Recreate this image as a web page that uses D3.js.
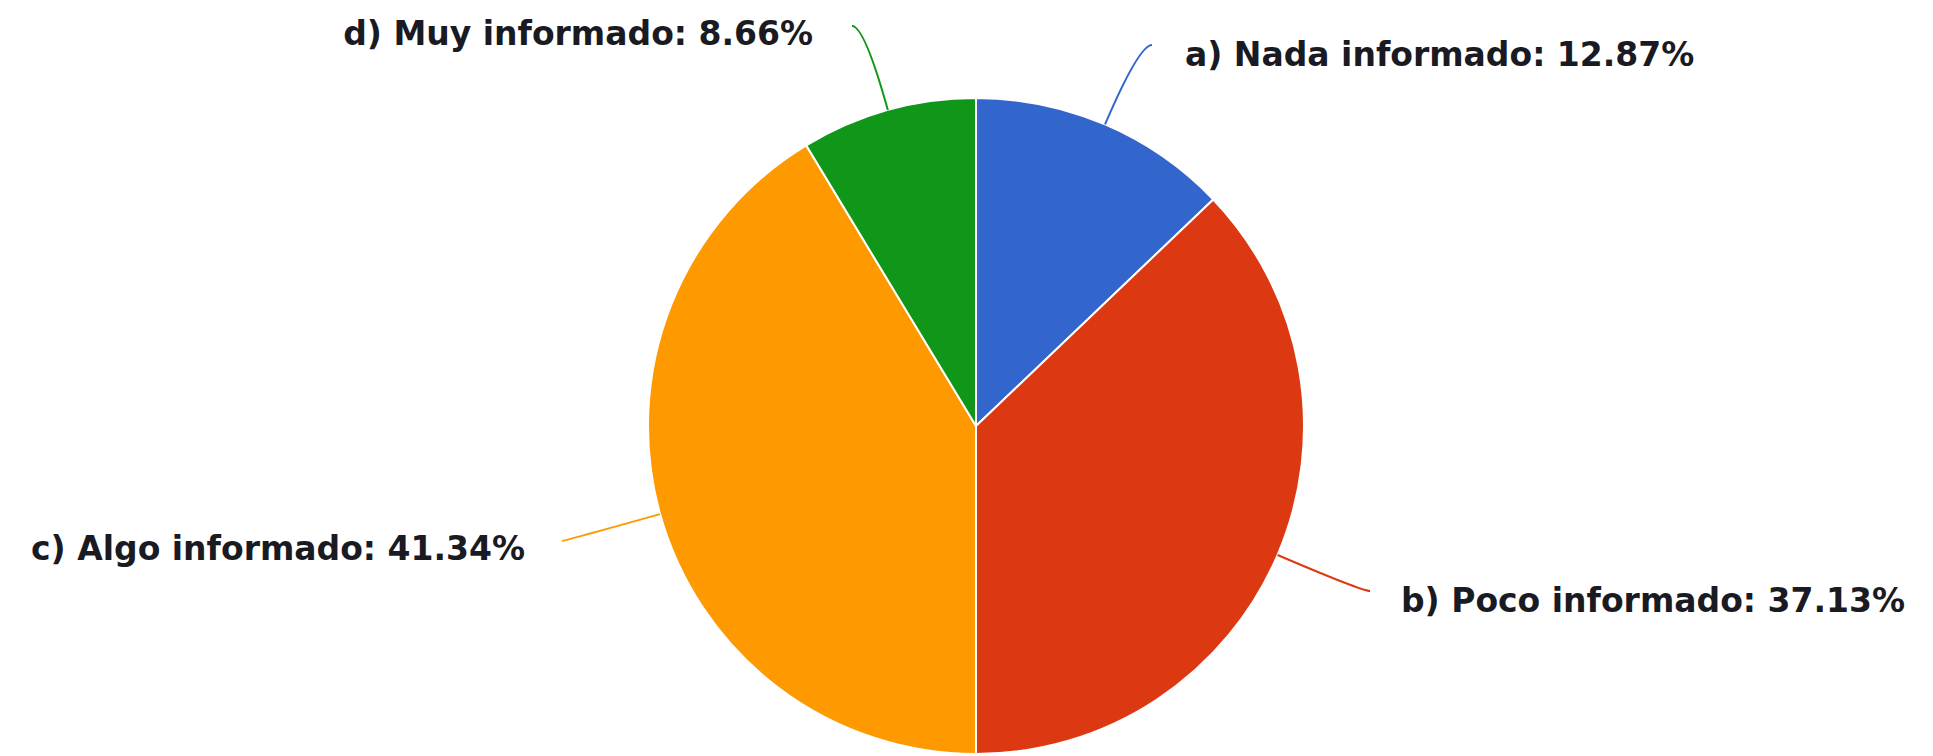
<!DOCTYPE html>
<html>
<head>
<meta charset="utf-8">
<script src="https://cdn.jsdelivr.net/npm/d3@7"></script>
<style>
  body { margin: 0; background: #fff; }
  text { font-family: "DejaVu Sans", sans-serif; font-weight: bold; }
</style>
</head>
<body>
<div class="canvas"></div>
<script>
// data
const categories = ['a) Nada informado', 'b) Poco informado', 'c) Algo informado', 'd) Muy informado'];
const percents = [12.87, 37.13, 41.34, 8.66];
const colors = ['#3366cc', '#dc3912', '#ff9900', '#109618'];

// label layout: where each leader line ends and where its text baseline sits
const labelPos = [
    {end: [1152, 45],  tx: 1185, ty: 66,  anchor: 'start'},
    {end: [1370, 591], tx: 1401, ty: 612, anchor: 'start'},
    {end: [562, 541],  tx: 525,  ty: 560, anchor: 'end'},
    {end: [852, 26],   tx: 813,  ty: 45,  anchor: 'end'}
];

const width = 1933, height = 756;
const cx = 976, cy = 426, radius = 328;

const svg = d3.select('.canvas')
    .append('svg')
    .attr('width', width)
    .attr('height', height);

const data = categories.map((c, i) => ({name: c, value: percents[i], color: colors[i], pos: labelPos[i]}));

const pie = d3.pie()
    .sort(null)
    .value(d => d.value);

const arc = d3.arc()
    .innerRadius(0)
    .outerRadius(radius);

const graph = svg.append('g')
    .attr('transform', `translate(${cx},${cy})`);

const arcs = pie(data);

graph.selectAll('path.slice')
    .data(arcs)
    .enter()
    .append('path')
    .attr('class', 'slice')
    .attr('d', arc)
    .attr('fill', d => d.data.color)
    .attr('stroke', '#fff')
    .attr('stroke-width', 2);

// leader lines: start on the rim at mid angle, bend toward the label
const leader = d => {
    const a = (d.startAngle + d.endAngle) / 2;
    const dx = Math.sin(a), dy = -Math.cos(a);
    const p0 = [cx + dx * radius, cy + dy * radius];
    const end = d.data.pos.end;
    let t = (end[1] - p0[1]) / dy;
    let c = [p0[0] + dx * t, p0[1] + dy * t];
    const side = d.data.pos.anchor === 'start' ? 1 : -1;
    if ((c[0] - end[0]) * side > 0 || t < 0) {
        t = Math.hypot(end[0] - p0[0], end[1] - p0[1]) * 0.55;
        c = [p0[0] + dx * t, p0[1] + dy * t];
    }
    const p = d3.path();
    p.moveTo(p0[0], p0[1]);
    p.quadraticCurveTo(c[0], c[1], end[0], end[1]);
    return p.toString();
};

svg.selectAll('path.leader')
    .data(arcs)
    .enter()
    .append('path')
    .attr('class', 'leader')
    .attr('d', leader)
    .attr('fill', 'none')
    .attr('stroke', d => d.data.color)
    .attr('stroke-width', 2);

// labels
svg.selectAll('text.label')
    .data(arcs)
    .enter()
    .append('text')
    .attr('class', 'label')
    .attr('x', d => d.data.pos.tx)
    .attr('y', d => d.data.pos.ty)
    .attr('text-anchor', d => d.data.pos.anchor)
    .attr('font-size', 33)
    .attr('fill', '#1a1a22')
    .text(d => `${d.data.name}: ${d.data.value.toFixed(2)}%`);
</script>
</body>
</html>
